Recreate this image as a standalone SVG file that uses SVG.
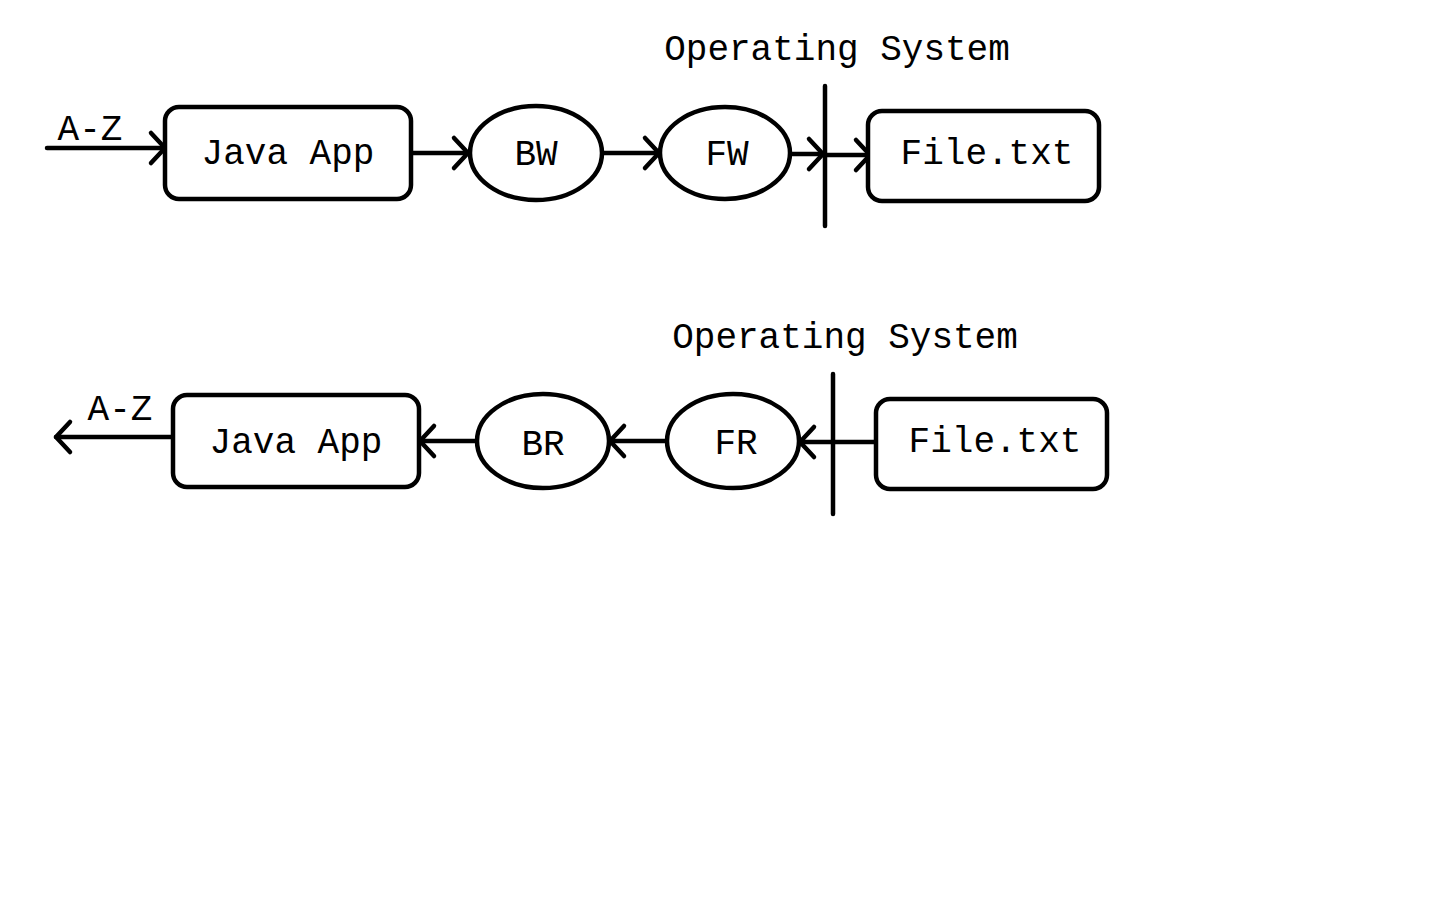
<svg xmlns="http://www.w3.org/2000/svg" width="1440" height="900" viewBox="0 0 1440 900">
<style>
.shape{fill:#fff;stroke:#000;stroke-width:4.5}
.line{fill:none;stroke:#000;stroke-width:4.5;stroke-linecap:round}
.txt{font-family:"Liberation Mono","Courier New",monospace;font-size:36px;fill:#000;text-anchor:middle}
</style>
<defs>
<marker id="chev" markerUnits="userSpaceOnUse" viewBox="-20 -20 24 40" markerWidth="24" markerHeight="40" refX="0" refY="0" orient="auto" overflow="visible">
<path d="M-14,-15 L0,0 L-14,15" fill="none" stroke="#000" stroke-width="4.5" stroke-linecap="round" stroke-linejoin="round"/>
</marker>
</defs>
<rect width="1440" height="900" fill="#fff"/>
<g id="connectors">
<line class="line" x1="47" y1="148" x2="165" y2="148" marker-end="url(#chev)"/>
<line class="line" x1="411" y1="153" x2="468" y2="153" marker-end="url(#chev)"/>
<line class="line" x1="602" y1="153" x2="659" y2="153" marker-end="url(#chev)"/>
<line class="line" x1="790" y1="154" x2="823" y2="154" marker-end="url(#chev)"/>
<line class="line" x1="825" y1="155" x2="870" y2="155" marker-end="url(#chev)"/>
<line class="line" x1="173" y1="437" x2="56" y2="437" marker-end="url(#chev)"/>
<line class="line" x1="477" y1="441" x2="420" y2="441" marker-end="url(#chev)"/>
<line class="line" x1="667" y1="441" x2="610" y2="441" marker-end="url(#chev)"/>
<line class="line" x1="880" y1="442" x2="800" y2="442" marker-end="url(#chev)"/>
</g>
<g id="os-boundary-top">
<line class="line" x1="825" y1="86" x2="825" y2="226" stroke-linecap="butt"/>
<text class="txt" x="837" y="60">Operating System</text>
</g>
<g id="os-boundary-bottom">
<line class="line" x1="833" y1="374" x2="833" y2="514" stroke-linecap="butt"/>
<text class="txt" x="845" y="348">Operating System</text>
</g>
<g id="label-az-top"><text class="txt" x="90" y="140">A-Z</text></g>
<g id="java-app-top">
<rect class="shape" x="165" y="107" width="246" height="92" rx="14"/>
<text class="txt" x="288" y="164">Java App</text>
</g>
<g id="bw">
<ellipse class="shape" cx="536" cy="153" rx="66" ry="47"/>
<text class="txt" x="536" y="165">BW</text>
</g>
<g id="fw">
<ellipse class="shape" cx="725" cy="153" rx="65" ry="46"/>
<text class="txt" x="727" y="165">FW</text>
</g>
<g id="file-top">
<rect class="shape" x="868" y="111" width="231" height="90" rx="14"/>
<text class="txt" x="987" y="164">File.txt</text>
</g>
<g id="label-az-bottom"><text class="txt" x="120" y="420">A-Z</text></g>
<g id="java-app-bottom">
<rect class="shape" x="173" y="395" width="246" height="92" rx="14"/>
<text class="txt" x="296" y="453">Java App</text>
</g>
<g id="br">
<ellipse class="shape" cx="543" cy="441" rx="66" ry="47"/>
<text class="txt" x="543" y="455">BR</text>
</g>
<g id="fr">
<ellipse class="shape" cx="733" cy="441" rx="66" ry="47"/>
<text class="txt" x="736" y="454">FR</text>
</g>
<g id="file-bottom">
<rect class="shape" x="876" y="399" width="231" height="90" rx="14"/>
<text class="txt" x="995" y="452">File.txt</text>
</g>
</svg>
